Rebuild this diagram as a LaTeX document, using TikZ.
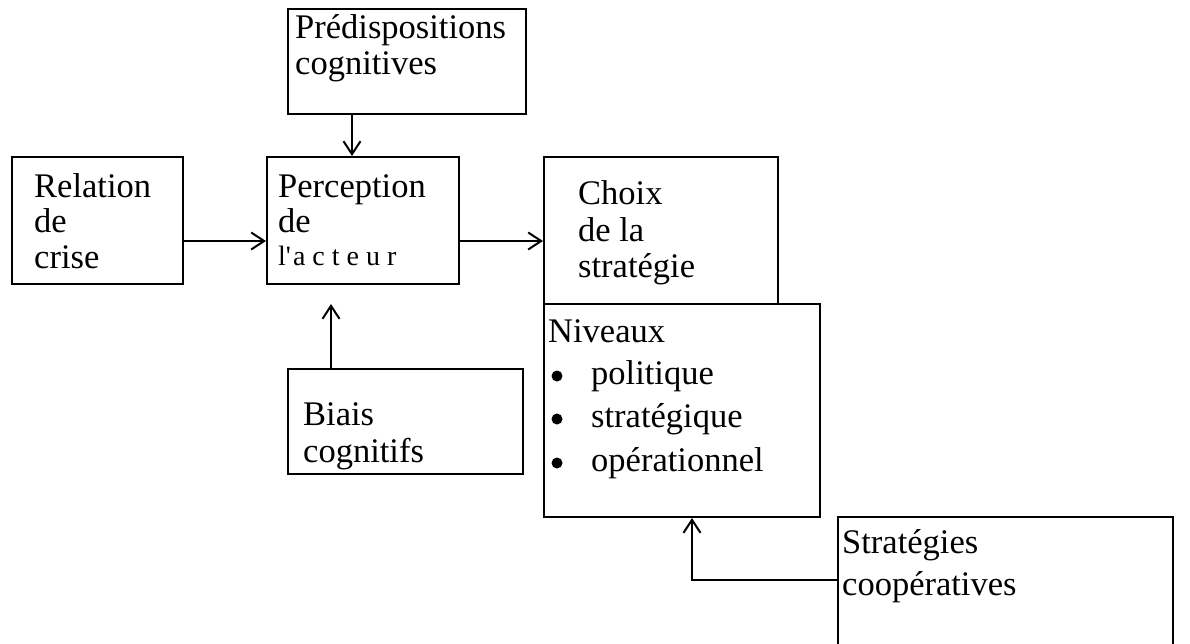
\documentclass[tikz,border=0pt]{standalone}
\usepackage{fontspec}
\setmainfont{Liberation Serif}
\newfontfamily\plainquote{Liberation Serif}[Ligatures=TeXOff]
\usetikzlibrary{arrows.meta,calc}
\begin{document}
\begin{tikzpicture}[x=1pt,y=-1pt,
  box/.style={draw, line width=2pt, inner sep=0pt},
  lbl/.style={anchor=base west, inner sep=0pt, font=\fontsize{34.5}{36}\selectfont},
  small/.style={anchor=base west, inner sep=0pt, font=\plainquote\fontsize{28}{30}\selectfont},
  dot/.style={circle, fill, inner sep=0pt, minimum size=11pt},
  arr/.style={line width=2pt, -{Straight Barb[length=13pt,width=17pt,line width=2pt]}}]
\clip (0,0) rectangle (1190,643);

% boxes
\node[box, minimum width=238pt, minimum height=105pt] (pred)   at (407,61.5)   {};
\node[box, minimum width=171pt, minimum height=127pt] (rel)    at (97.5,220.5) {};
\node[box, minimum width=192pt, minimum height=127pt] (perc)   at (363,220.5)  {};
\node[box, minimum width=234pt, minimum height=147pt] (choix)  at (661,230.5)  {};
\node[box, minimum width=276pt, minimum height=213pt] (niv)    at (682,410.5)  {};
\node[box, minimum width=235pt, minimum height=105pt] (biais)  at (405.5,421.5){};
\node[box, minimum width=335pt, minimum height=143pt] (strat)  at (1005.5,588.5){};

% labels
\node[lbl] (predA) at (295,38) {Prédispositions};
\node[lbl] (predB) at (295,74) {cognitives};

\node[lbl] (relA) at (34,197) {Relation};
\node[lbl] (relB) at (34,232) {de};
\node[lbl] (relC) at (34,268) {crise};

\node[lbl] (percA) at (278,197) {Perception};
\node[lbl] (percB) at (278,232) {de};
\node[small] (percC) at (278,265) {l'\kern2pt a\kern7pt c\kern7pt t\kern7pt e\kern7pt u\kern7pt r};

\node[lbl] (choixA) at (578,204) {Choix};
\node[lbl] (choixB) at (578,241) {de la};
\node[lbl] (choixC) at (578,277) {stratégie};

\node[lbl] (nivA) at (548,342) {Niveaux};
\node[dot] (nivB1) at (557,376) {};
\node[lbl] (nivB) at (591,384) {politique};
\node[dot] (nivC1) at (557,419) {};
\node[lbl] (nivC) at (591,427) {stratégique};
\node[dot] (nivD1) at (557,463) {};
\node[lbl] (nivD) at (591,471) {opérationnel};

\node[lbl] (biaisA) at (303,425) {Biais};
\node[lbl] (biaisB) at (303,462) {cognitifs};

\node[lbl] (stratA) at (842,553) {Stratégies};
\node[lbl] (stratB) at (842,595) {coopératives};

% connectors
\draw[arr] (352,0 |- pred.south) -- (352,0 |- perc.north);
\draw[arr] (rel.east |- 0,241) -- (perc.west |- 0,241);
\draw[arr] (perc.east |- 0,241) -- (choix.west |- 0,241);
\coordinate (biaisTip) at ($(331,0 |- perc.south)+(0,19)$);
\draw[arr] (331,0 |- biais.north) -- (biaisTip);
\coordinate (stratBend) at (692,580);
\draw[arr] (strat.west |- stratBend) -- (stratBend) -- (stratBend |- niv.south);
\end{tikzpicture}
\end{document}
